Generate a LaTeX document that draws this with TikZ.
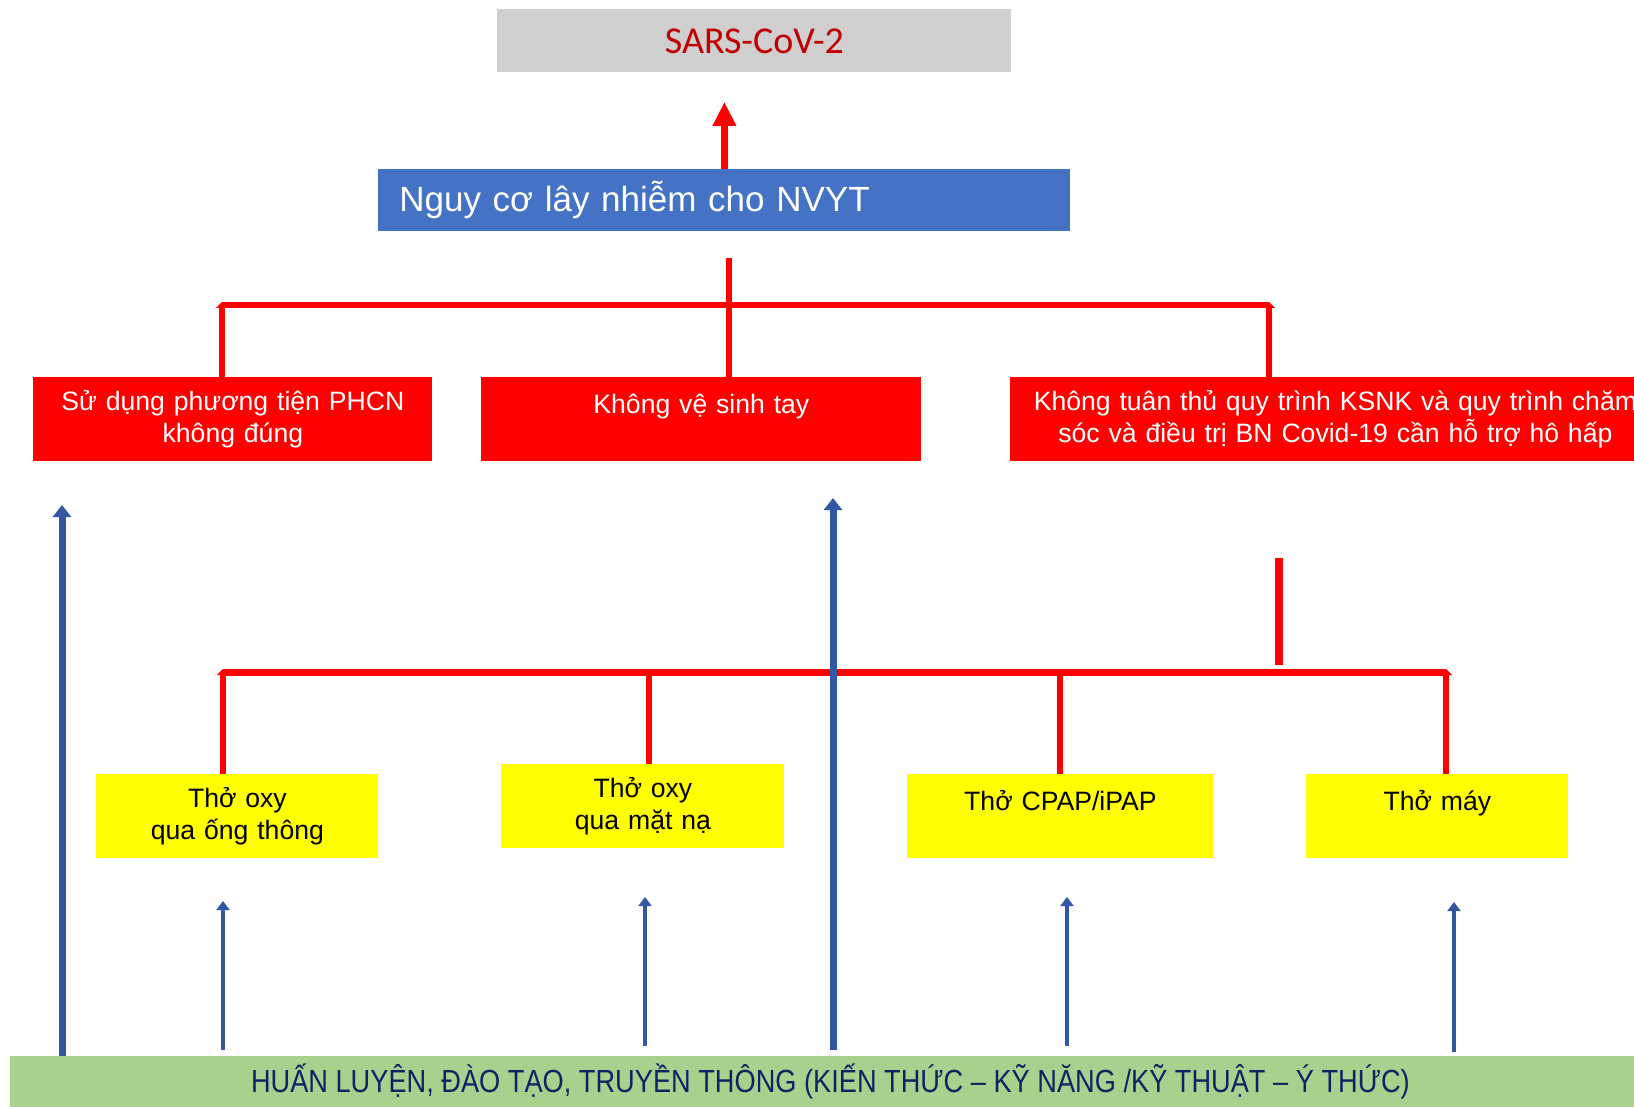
\documentclass[tikz,border=0pt]{standalone}
\usepackage{fontspec}
\usepackage{graphicx}
\setmainfont{Liberation Sans}
\newfontfamily\calibri{Carlito}
\usetikzlibrary{arrows.meta}

\definecolor{virusgray}{HTML}{D0CECE}
\definecolor{virusred}{HTML}{C00000}
\definecolor{riskblue}{HTML}{4472C4}
\definecolor{causered}{HTML}{FF0000}
\definecolor{modeyellow}{HTML}{FFFF00}
\definecolor{traingreen}{HTML}{A9D18E}
\definecolor{traintext}{RGB}{12,35,100}
\definecolor{arrowblue}{RGB}{50,88,165}

\begin{document}
\begin{tikzpicture}[x=0.5pt,y=-0.5pt]
  \tikzstyle{box}=[anchor=north west,inner sep=0pt,align=center,font=\fontsize{13.3}{16}\selectfont]
  \tikzstyle{cause}=[box,fill=causered,text=white,minimum height=42pt]
  \tikzstyle{mode}=[box,fill=modeyellow,text=black,minimum height=42pt]
  \tikzstyle{bus}=[draw=causered,line width=3pt]
  \tikzstyle{busup}=[bus,shorten >=-1.5pt,-{Triangle[width=6pt,length=3pt]}]
  \tikzstyle{bigup}=[draw=causered,line width=3.5pt,-{Triangle[width=11pt,length=12pt]}]
  \tikzstyle{thickup}=[draw=arrowblue,line width=3.5pt,-{Triangle[width=9pt,length=6pt]}]
  \tikzstyle{thinup}=[draw=arrowblue,line width=2.2pt,-{Triangle[width=6.5pt,length=4.5pt]}]
  \useasboundingbox (0,0) rectangle (1634,1107);

  \node[box,fill=virusgray,text=virusred,minimum width=257pt,minimum height=31.5pt,
        font=\calibri\fontsize{19}{23}\selectfont] (virus) at (497,9) {SARS-CoV-2};
  \node[box,fill=riskblue,text=white,text width=325pt,inner xsep=10.5pt,minimum height=31pt,
        align=left,font=\fontsize{17.5}{21}\selectfont] (risk) at (378,169) {Nguy cơ lây nhiễm cho NVYT};

  % causes
  \node[cause,text width=199.5pt] (ppe) at (33,377) {Sử dụng phương tiện PHCN\\không đúng};
  \node[cause,text width=220pt] (hand) at (481,377) {Không vệ sinh tay\\\mbox{}};
  \node[cause,text width=325pt] (ksnk) at (1010,377) {Không tuân thủ quy trình KSNK và quy trình chăm\\sóc và điều trị BN Covid-19 cần hỗ trợ hô hấp};

  % breathing support
  \node[mode,text width=141pt] (tube) at (96,774) {Thở oxy\\qua ống thông};
  \node[mode,text width=141.5pt] (mask) at (501,764) {Thở oxy\\qua mặt nạ};
  \node[mode,text width=153pt] (cpap) at (907,774) {Thở CPAP/iPAP\\\mbox{}};
  \node[mode,text width=131pt] (vent) at (1306,774) {Thở máy\\\mbox{}};

  \node[box,fill=traingreen,text=traintext,minimum width=820pt,minimum height=25.5pt,
        font=\fontsize{16}{19}\selectfont] (train) at (10,1056)
        {\scalebox{0.85}[1]{HUẤN LUYỆN, ĐÀO TẠO, TRUYỀN THÔNG (KIẾN THỨC – KỸ NĂNG /KỸ THUẬT – Ý THỨC)}};

  \draw[bigup,shorten >=14.5pt] (risk.north) -- (risk.north |- virus.south);

  % upper bus
  \coordinate (topspine) at (729,258);
  \coordinate (busL) at (222,305);
  \coordinate (busR) at (1269,305);
  \draw[bus] (topspine) -- (topspine |- hand.north);
  \draw[bus] (busL) -- (busR);
  \draw[busup] (busL |- ppe.north) -- (busL);
  \draw[busup] (busR |- ksnk.north) -- (busR);

  % lower bus
  \coordinate (lowspine) at (1279,558);
  \coordinate (lowL) at (223,672);
  \coordinate (lowM) at (649,672);
  \coordinate (lowR) at (1446,672);
  \draw[bus,line width=4pt,shorten >=3.5pt] (lowspine) -- (lowspine |- lowL);
  \draw[bus,line width=3.5pt] (lowL) -- (lowR);
  \draw[busup] (lowL |- tube.north) -- (lowL);
  \draw[bus] (lowM |- mask.north) -- (lowM);
  \draw[busup] (cpap.north) -- (cpap.north |- lowL);
  \draw[busup] (lowR |- vent.north) -- (lowR);

  % training arrows
  \coordinate (tipA) at (62,505);
  \coordinate (tipB) at (833,498);
  \coordinate (tip1) at (223,901);
  \coordinate (tip2) at (645,897);
  \coordinate (tip3) at (1067,897);
  \coordinate (tip4) at (1454,902);
  \draw[thickup] (tipA |- train.north) -- (tipA);
  \draw[thickup,shorten <=3pt] (tipB |- train.north) -- (tipB);
  \draw[thinup,shorten <=3pt] (tip1 |- train.north) -- (tip1);
  \draw[thinup,shorten <=5pt] (tip2 |- train.north) -- (tip2);
  \draw[thinup,shorten <=5pt] (tip3 |- train.north) -- (tip3);
  \draw[thinup,shorten <=2pt] (tip4 |- train.north) -- (tip4);
\end{tikzpicture}
\end{document}
